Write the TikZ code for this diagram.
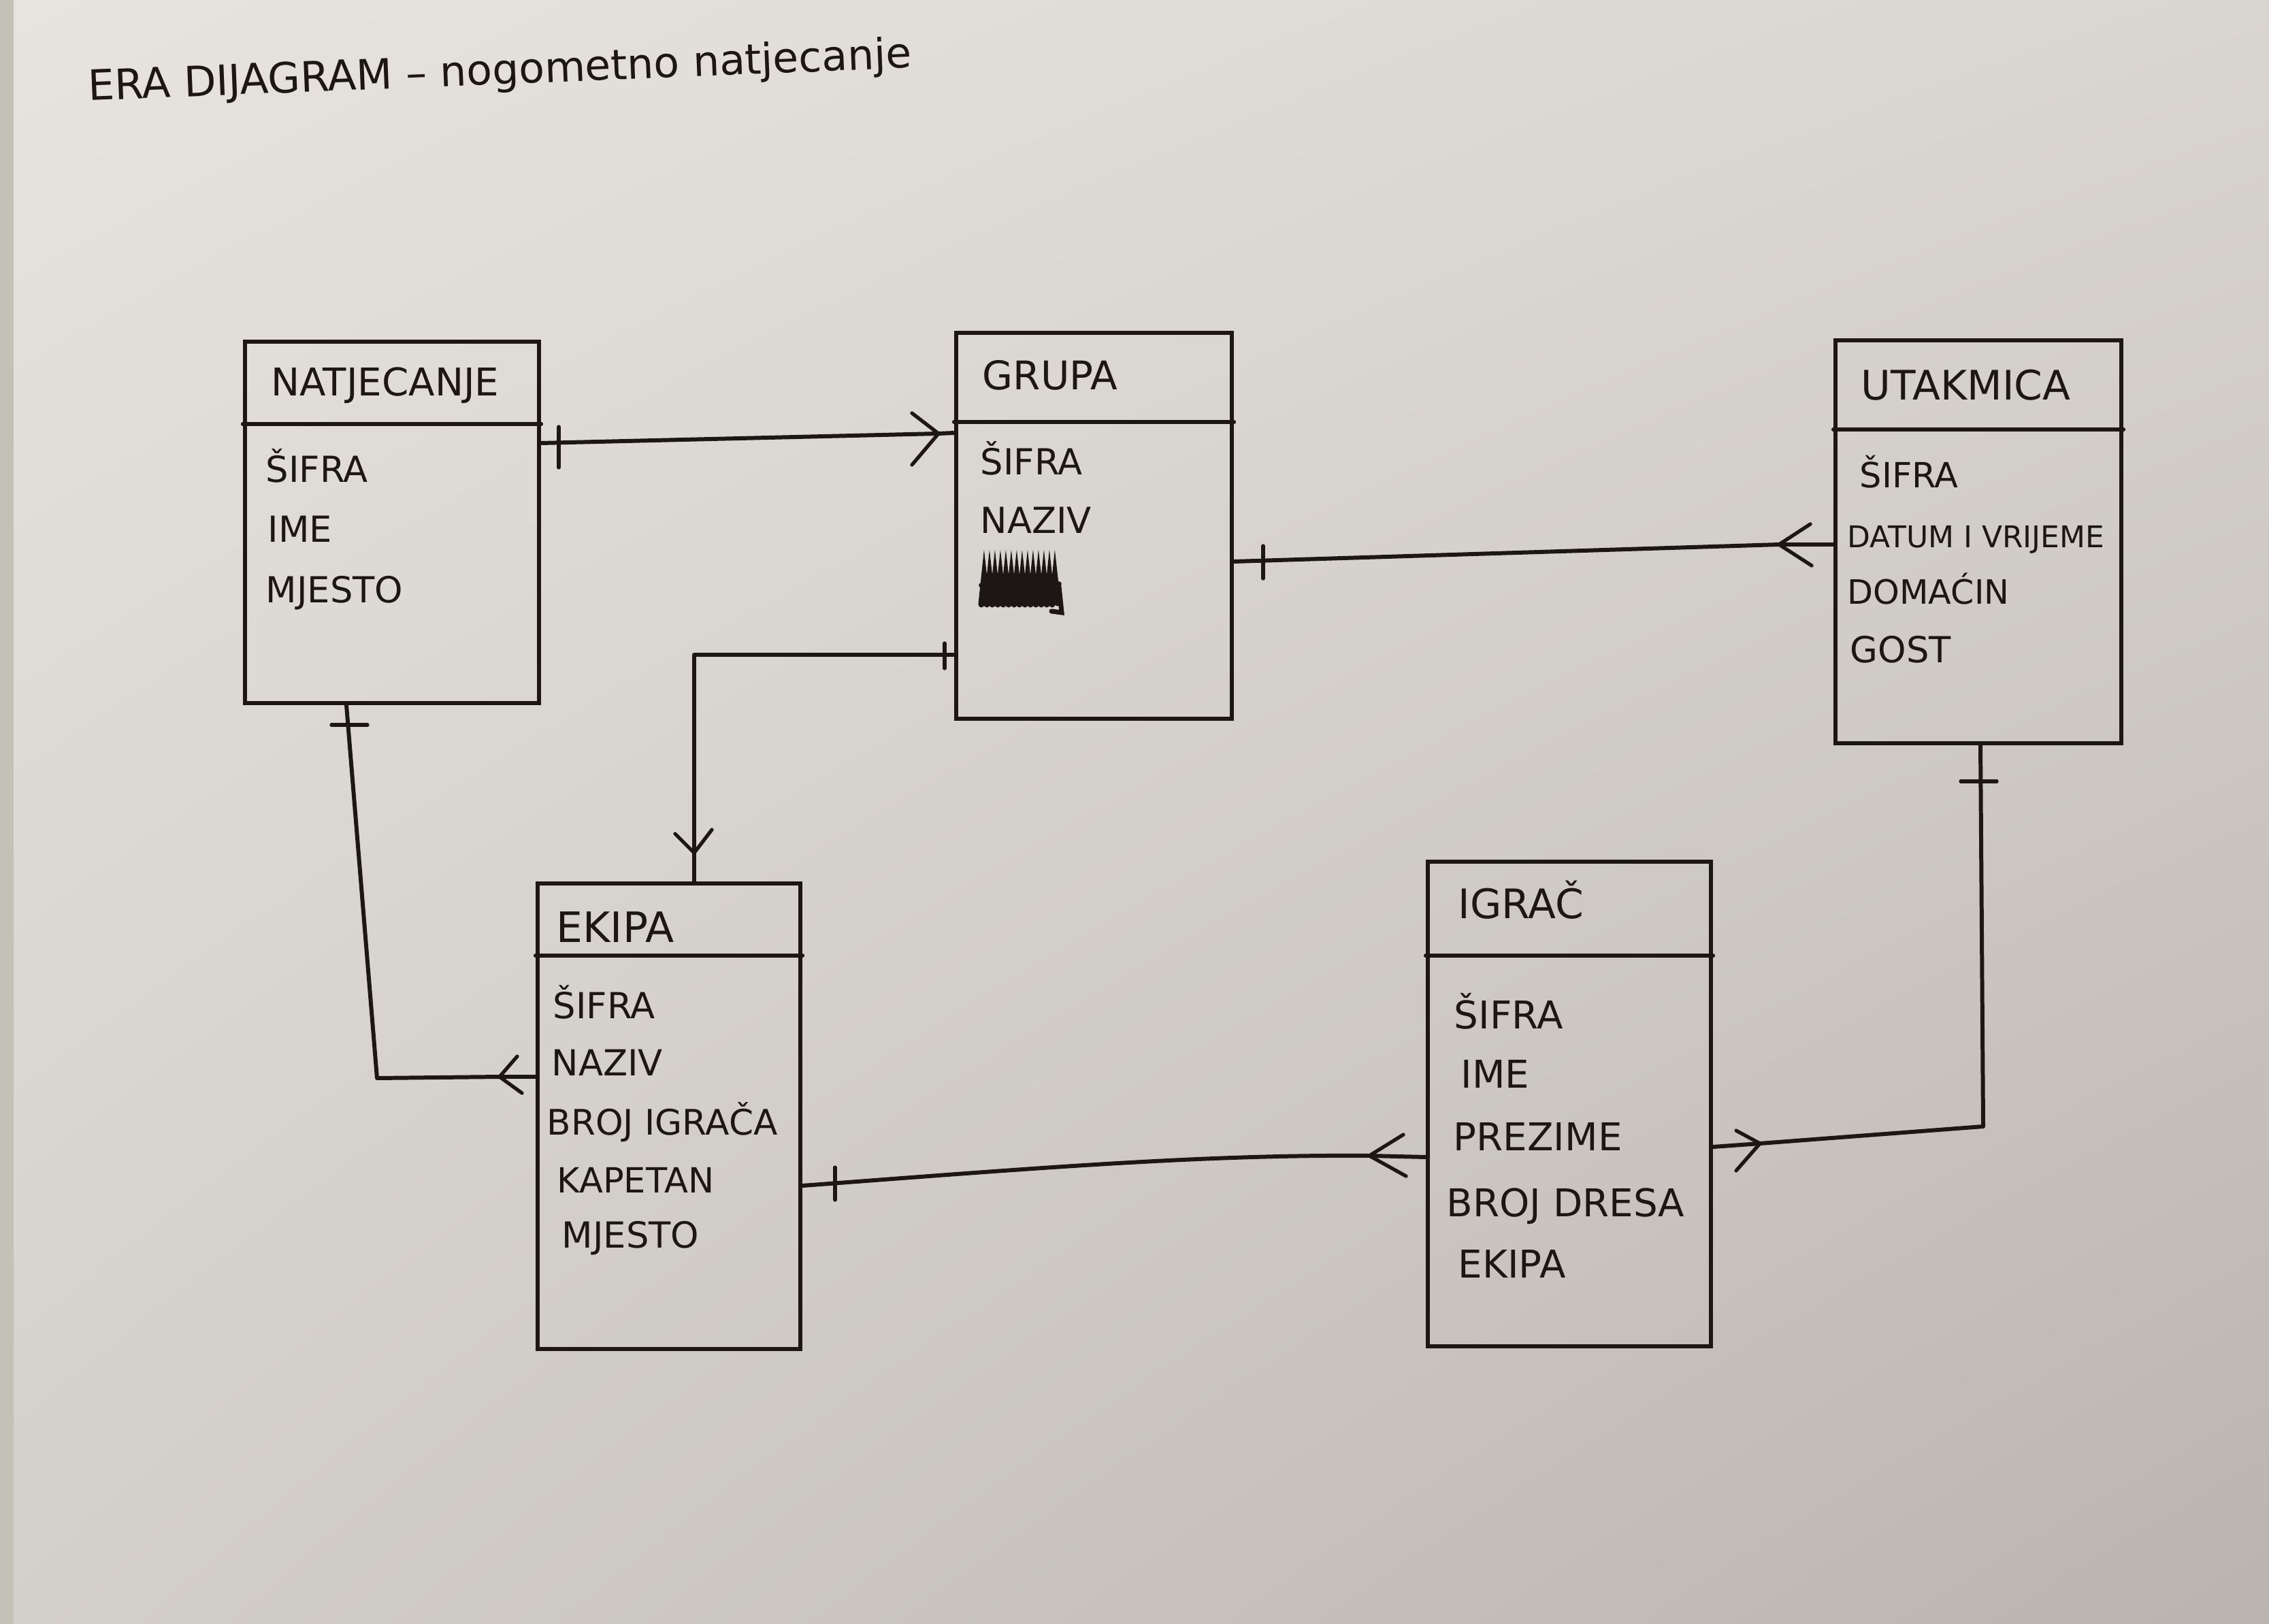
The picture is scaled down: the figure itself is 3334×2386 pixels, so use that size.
\documentclass[tikz,border=0pt]{standalone}
\usepackage{fontspec}
\setmainfont{DejaVu Sans}
\usetikzlibrary{shadings}
\definecolor{ink}{RGB}{28,22,20}
\definecolor{tablec}{RGB}{196,194,182}
\definecolor{pUL}{RGB}{231,228,224}
\definecolor{pUR}{RGB}{217,213,209}
\definecolor{pLL}{RGB}{211,207,203}
\definecolor{pLR}{RGB}{186,180,176}
\tikzset{
  entity/.style={draw=ink, line width=1.7pt, rectangle, inner sep=0pt},
  conn/.style={draw=ink, line width=1.7pt, line cap=round, line join=round},
  tickln/.style={draw=ink, line width=1.5pt, line cap=round},
  attr/.style={anchor=base west, inner sep=0pt, text=ink, font=\fontsize{15}{17}\selectfont},
  ttl/.style={anchor=base west, inner sep=0pt, text=ink, font=\fontsize{16.5}{19}\selectfont},
}
\begin{document}
\begin{tikzpicture}[x=0.01cm,y=-0.01cm]
% background
\fill[tablec] (0,0) rectangle (3334,2386);
\shade[upper left=pUL, upper right=pUR, lower left=pLL, lower right=pLR] (20,0) rectangle (3334,2386);
\useasboundingbox (0,0) rectangle (3334,2386);

% title
\node[anchor=base west, inner sep=0pt, text=ink, rotate=2.3, font=\fontsize{17.5}{20}\selectfont] (title) at (130,148) {ERA DIJAGRAM – nogometno natjecanje};

% entities
\node[entity, minimum width=4.32cm, minimum height=5.31cm] (nat) at (576,767.5) {};
\node[entity, minimum width=4.05cm, minimum height=5.67cm] (grp) at (1607.5,772.5) {};
\node[entity, minimum width=4.20cm, minimum height=5.92cm] (utk) at (2907,796) {};
\node[entity, minimum width=3.86cm, minimum height=6.84cm] (eki) at (983,1640) {};
\node[entity, minimum width=4.16cm, minimum height=7.12cm] (igr) at (2306,1622) {};

% header dividers
\draw[conn] (nat.west |- 0,623) -- (nat.east |- 0,623);
\draw[conn] (grp.west |- 0,620) -- (grp.east |- 0,620);
\draw[conn] (utk.west |- 0,631) -- (utk.east |- 0,631);
\draw[conn] (eki.west |- 0,1404) -- (eki.east |- 0,1404);
\draw[conn] (igr.west |- 0,1404) -- (igr.east |- 0,1404);

% NATJECANJE
\node[ttl, font=\fontsize{16}{19}\selectfont] (natT) at (398,582) {NATJECANJE};
\node[attr] (natA1) at (390,709) {ŠIFRA};
\node[attr] (natA2) at (393,797) {IME};
\node[attr] (natA3) at (390,886) {MJESTO};

% GRUPA
\node[ttl] (grpT) at (1443,573) {GRUPA};
\node[attr] (grpA1) at (1440,698) {ŠIFRA};
\node[attr] (grpA2) at (1440,784) {NAZIV};
\foreach \i in {0,...,13}{
  \draw[ink, line width=2.6pt, line cap=round] (1442+\i*8,888) -- (1446+\i*8,850) -- (1450+\i*8,886);
}
\draw[ink, line width=2.2pt, line cap=round] (1442,860) .. controls (1480,845) and (1520,880) .. (1556,858);
\draw[ink, line width=2pt, line cap=round] (1556,862) -- (1560,900) -- (1545,898);

% UTAKMICA
\node[ttl, font=\fontsize{17}{20}\selectfont] (utkT) at (2734,588) {UTAKMICA};
\node[attr, font=\fontsize{14.5}{17}\selectfont] (utkA1) at (2732,717) {ŠIFRA};
\node[attr, font=\fontsize{12.5}{15}\selectfont] (utkA2) at (2714,805) {DATUM I VRIJEME};
\node[attr, font=\fontsize{14}{17}\selectfont] (utkA3) at (2714,888) {DOMAĆIN};
\node[attr, font=\fontsize{15}{17}\selectfont] (utkA4) at (2718,974) {GOST};

% EKIPA
\node[ttl, font=\fontsize{17.5}{20}\selectfont] (ekiT) at (817,1384) {EKIPA};
\node[attr] (ekiA1) at (812,1496) {ŠIFRA};
\node[attr] (ekiA2) at (810,1580) {NAZIV};
\node[attr, font=\fontsize{14.7}{17}\selectfont] (ekiA3) at (803,1667) {BROJ IGRAČA};
\node[attr, font=\fontsize{14.5}{17}\selectfont] (ekiA4) at (818,1752) {KAPETAN};
\node[attr] (ekiA5) at (825,1833) {MJESTO};

% IGRAČ
\node[ttl, font=\fontsize{17}{20}\selectfont] (igrT) at (2142,1349) {IGRAČ};
\node[attr, font=\fontsize{16}{18}\selectfont] (igrA1) at (2136,1511) {ŠIFRA};
\node[attr, font=\fontsize{16}{18}\selectfont] (igrA2) at (2146,1598) {IME};
\node[attr, font=\fontsize{16}{18}\selectfont] (igrA3) at (2135,1690) {PREZIME};
\node[attr, font=\fontsize{16}{18}\selectfont] (igrA4) at (2125,1787) {BROJ DRESA};
\node[attr, font=\fontsize{16}{18}\selectfont] (igrA5) at (2142,1877) {EKIPA};

% --- connectors ---
% NATJECANJE -> GRUPA
\coordinate (c1) at (1379,637);
\draw[conn] (nat.east |- 0,651) -- (c1) -- (grp.west |- 0,636);
\draw[tickln] (821,627) -- (821,687);
\draw[tickln] (c1) -- ++(-39,-30);
\draw[tickln] (c1) -- ++(-39,46);

% GRUPA -> UTAKMICA
\coordinate (c2) at (2614,800);
\draw[conn] (grp.east |- 0,825) -- (c2) -- (utk.west |- 0,800);
\draw[tickln] (1856,802) -- (1856,850);
\draw[tickln] (c2) -- ++(46,-30);
\draw[tickln] (c2) -- ++(48,31);

% GRUPA -> EKIPA
\coordinate (c3) at (1020,1253);
\draw[conn] (grp.west |- 0,962) -- (1020,962) -- (c3) -- (1020,0 |- eki.north);
\draw[tickln] (1388,945) -- (1388,982);
\draw[tickln] (c3) -- ++(-28,-28);
\draw[tickln] (c3) -- ++(26,-34);

% NATJECANJE -> EKIPA
\coordinate (c4) at (734,1582);
\draw[conn] (509,0 |- nat.south) -- (554,1584) -- (c4) -- (eki.west |- 0,1582);
\draw[tickln] (487,1065) -- (540,1065);
\draw[tickln] (c4) -- ++(26,-30);
\draw[tickln] (c4) -- ++(33,24);

% IGRAČ -> EKIPA
\coordinate (c5) at (2012,1698);
\draw[conn] (eki.east |- 0,1742) .. controls (1500,1718) and (1760,1696) .. (c5) -- (igr.west |- 0,1700);
\draw[tickln] (1227,1715) -- (1227,1763);
\draw[tickln] (c5) -- ++(50,-31);
\draw[tickln] (c5) -- ++(54,30);

% IGRAČ -> UTAKMICA
\coordinate (c6) at (2586,1680);
\draw[conn] (igr.east |- 0,1685) -- (c6) -- (2914,1655) -- (2910,0 |- utk.south);
\draw[tickln] (2881,1148) -- (2934,1148);
\draw[tickln] (c6) -- ++(-35,-19);
\draw[tickln] (c6) -- ++(-35,40);
\end{tikzpicture}
\end{document}
